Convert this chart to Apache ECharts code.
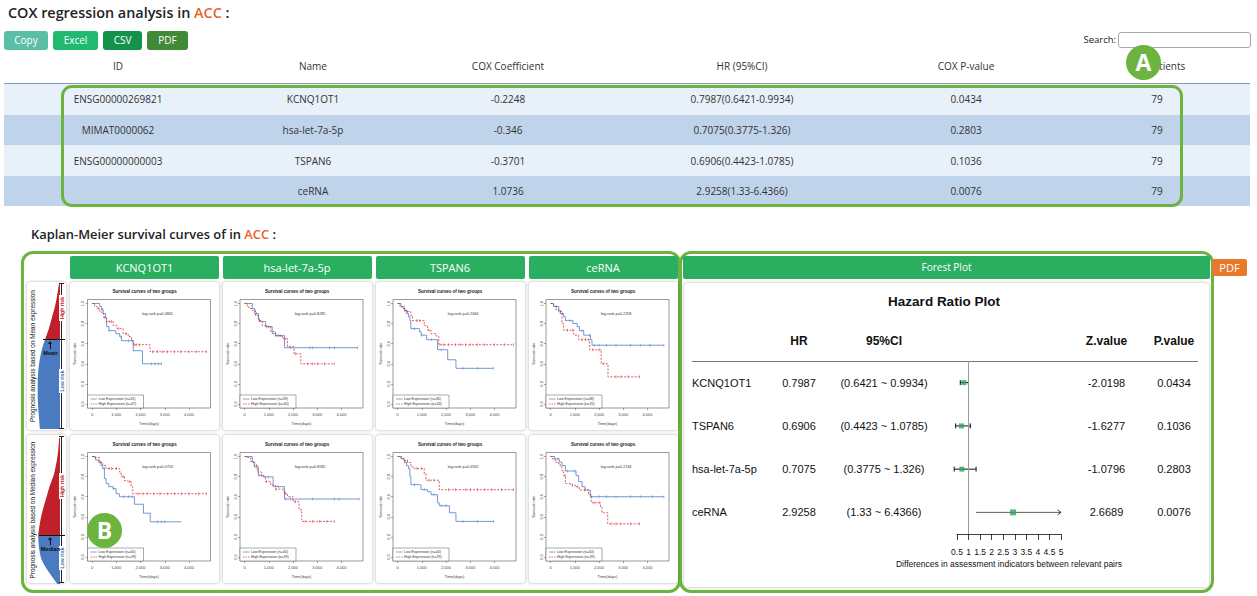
<!DOCTYPE html>
<html><head><meta charset="utf-8">
<script src="https://cdn.jsdelivr.net/npm/echarts@6/dist/echarts.min.js"></script>
<style>
html,body{margin:0;padding:0;width:1257px;height:596px;overflow:hidden;background:#fff;font-family:'Open Sans',sans-serif;color:#333;}
.a{position:absolute;box-sizing:border-box;white-space:nowrap;}
#chart{position:absolute;left:0;top:0;width:1257px;height:596px;z-index:2;pointer-events:none;}
</style></head><body>
<div id="chart"></div>
<script>
// ---------------- DATA ----------------
const tblHeaders = ['ID','Name','COX Coefficient','HR (95%CI)','COX P-value','No. Patients'];
const tblIDs = ['ENSG00000269821','MIMAT0000062','ENSG00000000003',''];
const tblNames = ['KCNQ1OT1','hsa-let-7a-5p','TSPAN6','ceRNA'];
const tblCoef = ['-0.2248','-0.346','-0.3701','1.0736'];
const tblHR = ['0.7987(0.6421-0.9934)','0.7075(0.3775-1.326)','0.6906(0.4423-1.0785)','2.9258(1.33-6.4366)'];
const tblP = ['0.0434','0.2803','0.1036','0.0076'];
const tblN = ['79','79','79','79'];

const kmGenes = ['KCNQ1OT1','hsa-let-7a-5p','TSPAN6','ceRNA'];
const kmLowN_mean = [32, 39, 36, 48];
const kmHighN_mean = [47, 40, 43, 31];
const kmLowN_median = [40, 40, 40, 40];
const kmHighN_median = [39, 39, 39, 39];
const kmP_mean = ['0.4805','0.8285','0.2064','0.2258'];
const kmP_median = ['0.0753','0.8585','0.0592','0.2234'];
const kmXTicks = [0,1000,2000,3000,4000];
const kmYTicks = [0,0.2,0.4,0.6,0.8,1];

// step curves [time, survival]
const meanLow1 = [[0,1],[320,0.97],[390,0.94],[460,0.90],[560,0.86],[600,0.77],[700,0.73],[980,0.70],[1140,0.67],[1210,0.63],[1700,0.53],[2080,0.40],[2870,0.40]];
const meanHigh1 = [[0,1],[110,0.97],[210,0.95],[320,0.92],[400,0.90],[480,0.86],[590,0.82],[870,0.78],[1030,0.75],[1280,0.70],[1490,0.67],[1630,0.63],[1700,0.59],[2390,0.52],[4730,0.52]];
const meanLowCens1 = [420,700,1200,1500,1650,2450,2600,2750,2870];
const meanHighCens1 = [250,520,700,800,1100,1400,1750,1850,1950,2500,2700,2900,3100,3400,3650,4000,4300,4730];

const meanLow2 = [[0,1],[320,0.95],[420,0.90],[570,0.84],[620,0.82],[870,0.77],[1140,0.70],[1280,0.68],[1650,0.56],[4670,0.56]];
const meanHigh2 = [[0,1],[110,0.97],[180,0.95],[320,0.93],[450,0.88],[590,0.83],[730,0.78],[940,0.77],[1080,0.72],[1280,0.68],[1560,0.65],[1770,0.57],[2040,0.50],[2320,0.40],[3700,0.40]];
const meanLowCens2 = [500,900,1300,1500,1900,2700,2800,3500,3700,4670];
const meanHighCens2 = [600,1000,1400,1700,2100,2600,2800,3000,3300,3700];

const meanLow3 = [[0,1],[140,0.97],[280,0.93],[370,0.90],[450,0.87],[510,0.83],[550,0.75],[900,0.72],[970,0.685],[1200,0.64],[1650,0.54],[2070,0.44],[2410,0.355],[3960,0.355]];
const meanHigh3 = [[0,1],[100,0.97],[190,0.95],[340,0.92],[550,0.88],[620,0.83],[1100,0.78],[1240,0.735],[1380,0.70],[1590,0.675],[1700,0.59],[4790,0.59]];
const meanLowCens3 = [300,700,1000,1400,1800,2700,3300,3960];
const meanHighCens3 = [400,800,900,1300,1750,1900,2100,2400,2600,2800,3000,3300,3600,4000,4400,4790];

const meanLow4 = [[0,1],[130,0.97],[340,0.93],[400,0.90],[540,0.87],[610,0.83],[920,0.80],[1100,0.77],[1190,0.73],[1370,0.685],[1650,0.64],[1710,0.585],[4680,0.585]];
const meanHigh4 = [[0,1],[120,0.97],[220,0.94],[330,0.92],[470,0.80],[540,0.735],[960,0.685],[1160,0.64],[1610,0.54],[2090,0.40],[2370,0.27],[3680,0.27]];
const meanLowCens4 = [250,500,800,1300,1600,1800,2000,2300,2700,3300,3700,4100,4680];
const meanHighCens4 = [400,700,900,1300,1450,1550,1750,2000,2200,2700,2900,3200,3680];

const medianLow1 = [[0,1],[140,0.967],[280,0.94],[370,0.91],[440,0.88],[510,0.78],[580,0.73],[690,0.70],[860,0.68],[990,0.63],[1130,0.60],[1750,0.525],[2120,0.436],[2400,0.35],[3680,0.35]];
const medianHigh1 = [[0,1],[100,0.99],[300,0.944],[440,0.91],[580,0.88],[1130,0.846],[1200,0.80],[1340,0.76],[1480,0.75],[1610,0.70],[1680,0.63],[4720,0.63]];
const medianLowCens1 = [500,900,1300,1500,1650,2700,2850,3000];
const medianHighCens1 = [350,700,800,1000,1300,1550,1900,2100,2300,2550,2800,3100,3400,3700,4000,4400,4720];

const medianLow2 = [[0,1],[320,0.944],[420,0.895],[570,0.813],[800,0.797],[1180,0.70],[1650,0.577],[4730,0.577]];
const medianHigh2 = [[0,1],[110,0.99],[250,0.95],[380,0.91],[520,0.846],[700,0.797],[870,0.75],[1080,0.715],[1280,0.675],[1630,0.633],[1770,0.60],[2000,0.55],[2250,0.47],[2360,0.354],[3700,0.354]];
const medianLowCens2 = [600,1000,1400,1700,1900,2800,3700,3900,4730];
const medianHighCens2 = [500,900,1300,1700,2100,2500,2800,3100,3400,3700];

const medianLow3 = [[0,1],[170,0.977],[280,0.944],[370,0.91],[450,0.88],[510,0.80],[550,0.72],[900,0.715],[970,0.67],[1240,0.65],[1380,0.62],[1650,0.54],[1720,0.51],[2140,0.44],[2410,0.354],[3960,0.354]];
const medianHigh3 = [[0,1],[140,0.977],[280,0.96],[410,0.94],[550,0.895],[690,0.88],[1100,0.83],[1170,0.764],[1720,0.67],[4790,0.67]];
const medianLowCens3 = [300,700,1100,1500,1800,2000,2700,3300,3960];
const medianHighCens3 = [400,800,1000,1300,1500,2100,2400,2800,3000,3300,3600,3900,4300,4790];

const medianLow4 = [[0,1],[170,0.977],[360,0.944],[470,0.91],[610,0.856],[1050,0.81],[1160,0.75],[1300,0.70],[1430,0.666],[1640,0.60],[4680,0.60]];
const medianHigh4 = [[0,1],[80,0.977],[190,0.944],[330,0.928],[400,0.895],[470,0.86],[540,0.81],[610,0.73],[880,0.715],[1020,0.70],[1190,0.666],[1570,0.62],[1680,0.54],[2060,0.50],[2120,0.44],[2360,0.33],[3670,0.33]];
const medianLowCens4 = [300,700,1000,1700,2000,2300,2700,3300,3700,4200,4680];
const medianHighCens4 = [600,900,1100,1400,1800,2000,2500,2700,2900,3300,3670];

// sidebar density shapes (width units)
const meanDensity = [1,3,5.5,9,12.5,17,21,23.5,25,25.5,25.5,25,24,23];
const meanSplit = 5;
const medianDensity = [1,2,4,7,12,16,20,23,25,24,21,13,3];
const medianSplit = 8;

// forest plot
const forestNames = ['KCNQ1OT1','TSPAN6','hsa-let-7a-5p','ceRNA'];
const forestHR = [0.7987,0.6906,0.7075,2.9258];
const forestLow = [0.6421,0.4423,0.3775,1.33];
const forestHigh = [0.9934,1.0785,1.326,6.4366];
const forestZ = ['-2.0198','-1.6277','-1.0796','2.6689'];
const forestP = ['0.0434','0.1036','0.2803','0.0076'];
const forestBox = [5,5,5,6];

// ---------------- LAYOUT ----------------
const GREEN = '#6cb33f', TAB = '#2aaf60';
function div(css, text){const d=document.createElement('div');d.className='a';d.style.cssText=css;if(text!==undefined)d.textContent=text;document.body.appendChild(d);return d;}
function ctext(x,y,text,css,h){h=h||16;return div('left:'+(x-200)+'px;top:'+(y-h/2)+'px;width:400px;height:'+h+'px;line-height:'+h+'px;text-align:center;'+(css||''),text);}
function rtext(x,y,text,css,h,w){h=h||10;w=w||200;return div('left:'+(x-w/2)+'px;top:'+(y-h/2)+'px;width:'+w+'px;height:'+h+'px;line-height:'+h+'px;text-align:center;transform:rotate(-90deg);'+(css||''),text);}

// title + buttons
div('left:8px;top:2px;height:22px;line-height:22px;font-size:14.4px;font-weight:600;color:#222;').innerHTML='COX regression analysis in <span style="color:#e8622c">ACC</span> :';
[['Copy','#5bbfa5',4,44],['Excel','#1fb970',53,45],['CSV','#13924b',103,39],['PDF','#418a37',147,41]].forEach(b=>{
  div('left:'+b[2]+'px;top:31px;width:'+b[3]+'px;height:19px;line-height:19px;border-radius:3px;background:'+b[1]+';color:#fff;font-size:10px;text-align:center;',b[0]);
});
div('left:1060px;top:33px;width:56px;height:14px;line-height:14px;font-size:9.5px;text-align:right;color:#222;','Search:');
div('left:1118px;top:32px;width:133px;height:16px;border:1px solid #aaa;border-radius:3px;background:#fff;');

// table
const colX = [118,313,508,742,966,1157];
tblHeaders.forEach((h,i)=>ctext(colX[i],66,h,'font-size:10px;color:#333;'));
div('left:4px;top:83px;width:1246px;height:1px;background:#8a90cc;');
for(let i=0;i<4;i++){
  const top = 84 + i*30.6;
  div('left:4px;top:'+top+'px;width:1246px;height:30.6px;background:'+(i%2?'#bfd3ea':'#e8f0f9')+';');
  const y = top+15.3;
  [tblIDs[i],tblNames[i],tblCoef[i],tblHR[i],tblP[i],tblN[i]].forEach((t,j)=>ctext(colX[j],y,t,'font-size:10px;color:#333;'));
}
div('left:61px;top:85px;width:1122px;height:122px;border:3px solid '+GREEN+';border-radius:11px;z-index:1;');
div('left:1126px;top:45px;width:35px;height:35px;border-radius:50%;background:#6db33f;color:#fff;font-weight:700;font-size:23px;line-height:35px;text-align:center;z-index:3;font-family:"Open Sans";','A');

// KM section
div('left:31px;top:224px;height:20px;line-height:20px;font-size:12.9px;font-weight:600;color:#222;').innerHTML='Kaplan-Meier survival curves of in <span style="color:#e8622c">ACC</span> :';
div('left:21px;top:251px;width:660px;height:342px;border:3px solid '+GREEN+';border-radius:12px;');
div('left:679px;top:251px;width:535px;height:342px;border:3px solid '+GREEN+';border-radius:12px;');

const kmCardX = [70,222.5,375.5,528.5];
const kmCardY = [282,435];
const CARD_W = 149, CARD_H = 148;
const GL = 17.5, GT = 17.5, GW = 123, GH = 108.5;
kmGenes.forEach((g,i)=>div('left:'+kmCardX[i]+'px;top:256px;width:'+CARD_W+'px;height:23px;line-height:23px;background:'+TAB+';color:#fff;font-size:11px;text-align:center;border-radius:2px;',g));
kmCardY.forEach(cy=>{
  kmCardX.forEach(cx=>div('left:'+cx+'px;top:'+cy+'px;width:'+CARD_W+'px;height:'+CARD_H+'px;background:#fff;border-radius:3px;box-shadow:0 0 3px rgba(0,0,0,.35);'));
  div('left:27px;top:'+cy+'px;width:39px;height:'+CARD_H+'px;background:#fff;border-radius:3px;box-shadow:0 0 3px rgba(0,0,0,.35);');
});

// sidebar decorations
const side = [
  {T:283,B:429,Y:339,bx:43,lab:'Mean',txt:'Prognosis analysis based on Mean expression',hi:308,lo:381},
  {T:436,B:583,Y:535,bx:39,lab:'Median',txt:'Prognosis analysis based on Median expression',hi:486,lo:558}
];
side.forEach(s=>{
  rtext(32.5,(s.T+s.B)/2,s.txt,'font-size:6.4px;color:#111;font-family:"Liberation Sans";z-index:3;',8,150);
  div('left:61px;top:'+s.T+'px;width:1px;height:'+(s.B-s.T)+'px;background:#222;z-index:3;');
  div('left:59px;top:'+s.T+'px;width:5px;height:1px;background:#222;z-index:3;');
  div('left:59px;top:'+(s.B-1)+'px;width:5px;height:1px;background:#222;z-index:3;');
  div('left:59px;top:'+(s.hi-13)+'px;width:5px;height:26px;background:#fff;z-index:3;');
  rtext(61.5,s.hi,'High risk','font-size:5.2px;font-weight:700;color:#c0202a;font-family:"Liberation Sans";z-index:4;',6,26);
  div('left:59px;top:'+(s.lo-12)+'px;width:5px;height:24px;background:#fff;z-index:3;');
  rtext(61.5,s.lo,'Low risk','font-size:5.2px;font-weight:700;color:#3c6fb5;font-family:"Liberation Sans";z-index:4;',6,24);
  div('left:'+s.bx+'px;top:'+s.Y+'px;width:'+(65-s.bx)+'px;height:1px;background:#111;z-index:3;');
  div('left:50px;top:'+(s.Y+4)+'px;width:1px;height:6px;background:#111;z-index:3;');
  div('left:48px;top:'+(s.Y+1.5)+'px;width:0;height:0;border-left:2.5px solid transparent;border-right:2.5px solid transparent;border-bottom:3.5px solid #111;z-index:3;');
  ctext(50.5,s.Y+14,s.lab,'font-size:5.6px;font-weight:700;color:#111;font-family:"Liberation Sans";z-index:3;',7);
});
div('left:87px;top:513px;width:35px;height:35px;border-radius:50%;background:#6db33f;color:#fff;font-weight:700;font-size:23px;line-height:35px;text-align:center;z-index:3;font-family:"Open Sans";','B');

// forest section
div('left:683px;top:256px;width:527px;height:23px;line-height:23px;background:'+TAB+';color:#fff;font-size:10px;text-align:center;border-radius:2px;','Forest Plot');
div('left:1212px;top:259px;width:35px;height:17px;line-height:17px;background:#e8782a;color:#fff;font-size:11px;text-align:center;border-radius:2px;z-index:3;','PDF');
div('left:684px;top:283px;width:525px;height:304px;background:#fff;border-radius:4px;box-shadow:0 0 3px rgba(0,0,0,.35);');
const FF = 'font-family:"Liberation Sans",Arial;color:#111;';
ctext(944,302,'Hazard Ratio Plot',FF+'font-size:13.5px;font-weight:700;');
const fCols = [799,884,1106.5,1174];
ctext(fCols[0],341,'HR',FF+'font-size:12px;font-weight:700;');
ctext(fCols[1],341,'95%CI',FF+'font-size:12px;font-weight:700;');
ctext(fCols[2],341,'Z.value',FF+'font-size:12px;font-weight:700;');
ctext(fCols[3],341,'P.value',FF+'font-size:12px;font-weight:700;');
div('left:692px;top:361px;width:506px;height:1px;background:#777;');
const FG = {left:957, top:361, width:104, height:173};
forestNames.forEach((n,i)=>{
  const y = FG.top + (i+0.5)*FG.height/forestNames.length;
  div('left:692px;top:'+(y-8)+'px;height:16px;line-height:16px;font-size:11px;'+FF,n);
  ctext(fCols[0],y,forestHR[i].toString(),FF+'font-size:11px;');
  ctext(fCols[1],y,'('+forestLow[i]+' ~ '+forestHigh[i]+')',FF+'font-size:11px;');
  ctext(fCols[2],y,forestZ[i],FF+'font-size:11px;');
  ctext(fCols[3],y,forestP[i],FF+'font-size:11px;');
});

// ---------------- ECHARTS ----------------
const panels = [
  [meanLow1,meanHigh1,meanLowCens1,meanHighCens1],
  [meanLow2,meanHigh2,meanLowCens2,meanHighCens2],
  [meanLow3,meanHigh3,meanLowCens3,meanHighCens3],
  [meanLow4,meanHigh4,meanLowCens4,meanHighCens4],
  [medianLow1,medianHigh1,medianLowCens1,medianHighCens1],
  [medianLow2,medianHigh2,medianLowCens2,medianHighCens2],
  [medianLow3,medianHigh3,medianLowCens3,medianHighCens3],
  [medianLow4,medianHigh4,medianLowCens4,medianHighCens4]
];
function survAt(curve,t){let s=1;for(const p of curve){if(p[0]<=t)s=p[1];else break;}return s;}
const BLUE='#4f7fc6', RED='#d8303a';
const grids=[], xAxes=[], yAxes=[], series=[], graphics=[];
const TF = 'Liberation Sans';
panels.forEach((p,k)=>{
  const r=Math.floor(k/4), c=k%4;
  const cx=kmCardX[c], cy=kmCardY[r];
  const gl=cx+GL, gt=cy+GT;
  grids.push({left:gl,top:gt,width:GW,height:GH,show:true,borderColor:'#555',borderWidth:0.6,backgroundColor:'rgba(0,0,0,0)'});
  xAxes.push({gridIndex:k,type:'value',min:-188,max:4888,
    axisLine:{show:false,onZero:false},
    axisTick:{show:true,length:2,lineStyle:{color:'#555',width:0.5},customValues:kmXTicks},
    axisLabel:{fontSize:4,color:'#444',margin:4.5,fontFamily:TF,customValues:kmXTicks},
    splitLine:{show:false},name:'Time(days)',nameLocation:'middle',nameGap:13.5,
    nameTextStyle:{fontSize:4,color:'#444',fontFamily:TF}});
  yAxes.push({gridIndex:k,type:'value',min:-0.04,max:1.04,
    axisLine:{show:false,onZero:false},
    axisTick:{show:true,length:2,lineStyle:{color:'#555',width:0.5},customValues:kmYTicks},
    axisLabel:{fontSize:4,color:'#444',margin:3,rotate:90,fontFamily:TF,customValues:kmYTicks,formatter:v=>Number(v).toFixed(1)},
    splitLine:{show:false},name:'Survival rate',nameLocation:'middle',nameGap:11,nameRotate:90,
    nameTextStyle:{fontSize:4,color:'#444',fontFamily:TF}});
  series.push({type:'line',xAxisIndex:k,yAxisIndex:k,step:'end',data:p[0],symbol:'none',lineStyle:{color:BLUE,width:0.8},z:3});
  series.push({type:'line',xAxisIndex:k,yAxisIndex:k,step:'end',data:p[1],symbol:'none',lineStyle:{color:RED,width:0.8,type:[2,1.5]},z:3});
  series.push({type:'scatter',xAxisIndex:k,yAxisIndex:k,data:p[2].map(t=>[t,survAt(p[0],t)]),symbol:'rect',symbolSize:[0.6,3],itemStyle:{color:BLUE},z:4});
  series.push({type:'scatter',xAxisIndex:k,yAxisIndex:k,data:p[3].map(t=>[t,survAt(p[1],t)]),symbol:'rect',symbolSize:[0.6,3],itemStyle:{color:RED},z:4});
  const nl = r===0?kmLowN_mean[c]:kmLowN_median[c];
  const nh = r===0?kmHighN_mean[c]:kmHighN_median[c];
  const pv = r===0?kmP_mean[c]:kmP_median[c];
  graphics.push({type:'text',x:cx+CARD_W/2,y:cy+9.7,style:{text:'Survival curves of two groups',fontSize:4.5,fontWeight:'bold',fill:'#222',fontFamily:TF,align:'center',verticalAlign:'middle',textAlign:'center',textVerticalAlign:'middle'}});
  graphics.push({type:'text',x:gl+GW*0.57,y:gt+14.5,style:{text:'log-rank p='+pv,fontSize:3.8,fill:'#333',fontFamily:TF,align:'center',verticalAlign:'middle',textAlign:'center',textVerticalAlign:'middle'}});
  graphics.push({type:'group',x:gl,y:gt+GH-13,children:[
    {type:'rect',shape:{x:0,y:0,width:56,height:13},style:{fill:'#fff',stroke:'#555',lineWidth:0.5}},
    {type:'line',shape:{x1:3,y1:4,x2:9.5,y2:4},style:{stroke:BLUE,lineWidth:0.7}},
    {type:'line',shape:{x1:3,y1:9,x2:9.5,y2:9},style:{stroke:RED,lineWidth:0.7,lineDash:[1.5,1]}},
    {type:'text',x:11,y:4,style:{text:'Low Expression (n='+nl+')',fontSize:3.6,fill:'#333',fontFamily:TF,verticalAlign:'middle',textVerticalAlign:'middle'}},
    {type:'text',x:11,y:9,style:{text:'High Expression (n='+nh+')',fontSize:3.6,fill:'#333',fontFamily:TF,verticalAlign:'middle',textVerticalAlign:'middle'}}
  ]});
});

// sidebar density grids (8, 9)
[[meanDensity,meanSplit,283,146],[medianDensity,medianSplit,438,146]].forEach((d,j)=>{
  const k = 8+j;
  grids.push({left:32,top:d[2],width:28,height:d[3]});
  xAxes.push({gridIndex:k,type:'value',min:0,max:32,inverse:true,show:false});
  yAxes.push({gridIndex:k,type:'category',data:d[0].map((v,i)=>i),boundaryGap:false,inverse:true,show:false});
  series.push({type:'line',xAxisIndex:k,yAxisIndex:k,data:d[0].map((v,i)=>i<=d[1]?v:'-'),smooth:0.3,symbol:'none',lineStyle:{width:0},areaStyle:{color:'#c0202a',opacity:1}});
  series.push({type:'line',xAxisIndex:k,yAxisIndex:k,data:d[0].map((v,i)=>i>=d[1]?v:'-'),smooth:0.3,symbol:'none',lineStyle:{width:0},areaStyle:{color:'#4a7abf',opacity:1}});
});

// forest grid (10)
grids.push(FG);
xAxes.push({gridIndex:10,type:'value',min:0.5,max:5,interval:0.5,
  axisLine:{show:true,onZero:false,lineStyle:{color:'#111',width:0.8}},
  axisTick:{show:true,length:6,lineStyle:{color:'#111',width:0.8}},
  axisLabel:{fontSize:8.5,color:'#111',margin:13,fontFamily:TF,formatter:v=>String(v)},
  splitLine:{show:false},
  name:'Differences in assessment indicators between relevant pairs',nameLocation:'middle',nameGap:25,
  nameTextStyle:{fontSize:8.5,color:'#111',fontFamily:TF}});
yAxes.push({gridIndex:10,type:'category',data:forestNames,inverse:true,show:false});
series.push({type:'custom',xAxisIndex:10,yAxisIndex:10,clip:false,z:3,
  data:forestNames.map((n,i)=>[forestLow[i],forestHigh[i],i]),
  encode:{x:[0,1],y:2},
  renderItem:function(params,api){
    const lo=api.value(0), hi=api.value(1), idx=api.value(2);
    const xmax=5;
    const p0=api.coord([lo,idx]);
    const clipped = hi>xmax;
    const p1=api.coord([clipped?xmax:hi,idx]);
    const y=p0[1];
    const ch=[{type:'line',shape:{x1:p0[0],y1:y,x2:p1[0],y2:y},style:{stroke:clipped?'#333':'#111',lineWidth:clipped?0.8:1}}];
    if(!clipped){
      ch.push({type:'line',shape:{x1:p0[0],y1:y-2.5,x2:p0[0],y2:y+2.5},style:{stroke:'#111',lineWidth:1}});
      ch.push({type:'line',shape:{x1:p1[0],y1:y-2.5,x2:p1[0],y2:y+2.5},style:{stroke:'#111',lineWidth:1}});
    } else {
      ch.push({type:'polyline',shape:{points:[[p1[0]-3.5,y-2.5],[p1[0],y],[p1[0]-3.5,y+2.5]]},style:{stroke:'#111',fill:'none',lineWidth:0.8}});
    }
    return {type:'group',children:ch};
  }});
series.push({type:'scatter',xAxisIndex:10,yAxisIndex:10,z:4,
  data:forestHR.map((v,i)=>[v,i]),symbol:'rect',
  symbolSize:function(val,params){return forestBox[params.dataIndex];},
  itemStyle:{color:'#27a65b'},
  markLine:{silent:true,symbol:'none',label:{show:false},lineStyle:{color:'#9a9a9a',width:1,type:'solid'},data:[{xAxis:1}]}});

const chart = echarts.init(document.getElementById('chart'),null,{renderer:'svg',width:1257,height:596});
chart.setOption({animation:false,textStyle:{fontFamily:TF},grid:grids,xAxis:xAxes,yAxis:yAxes,series:series,graphic:{elements:graphics}});
</script>
</body></html>
